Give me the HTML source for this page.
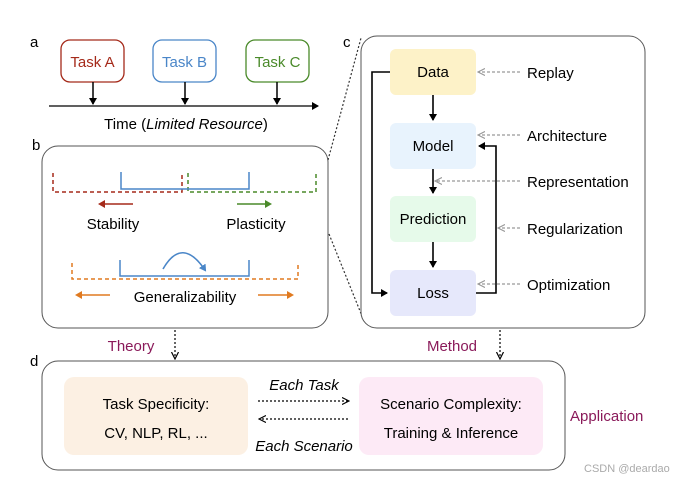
<!DOCTYPE html>
<html><head><meta charset="utf-8"><style>
html,body{margin:0;padding:0;background:#fff;}
svg{display:block;}
text{font-family:"Liberation Sans",Arial,sans-serif;}
</style></head><body>
<svg width="679" height="482" viewBox="0 0 679 482" xmlns="http://www.w3.org/2000/svg">
<defs>
<marker id="ak" markerWidth="8" markerHeight="8" refX="6" refY="4" orient="auto" markerUnits="userSpaceOnUse"><path d="M0,0 L7,4 L0,8 z" fill="#000"/></marker>
<marker id="ag" markerWidth="8" markerHeight="8" refX="6" refY="4" orient="auto" markerUnits="userSpaceOnUse"><path d="M0,0.5 L7,4 L0,7.5" fill="none" stroke="#999" stroke-width="1.2"/></marker>
<marker id="ad" markerWidth="8" markerHeight="8" refX="6" refY="4" orient="auto" markerUnits="userSpaceOnUse"><path d="M0,0.5 L7,4 L0,7.5" fill="none" stroke="#000" stroke-width="1.2"/></marker>
<marker id="ar" markerWidth="8" markerHeight="8" refX="5" refY="4" orient="auto" markerUnits="userSpaceOnUse"><path d="M0,0 L7,4 L0,8 z" fill="#a52a1a"/></marker>
<marker id="agr" markerWidth="8" markerHeight="8" refX="5" refY="4" orient="auto" markerUnits="userSpaceOnUse"><path d="M0,0 L7,4 L0,8 z" fill="#4a8a2a"/></marker>
<marker id="ao" markerWidth="8" markerHeight="8" refX="5" refY="4" orient="auto" markerUnits="userSpaceOnUse"><path d="M0,0 L7,4 L0,8 z" fill="#e07a20"/></marker>
<marker id="ab" markerWidth="8" markerHeight="8" refX="5" refY="4" orient="auto" markerUnits="userSpaceOnUse"><path d="M0,0 L7,4 L0,8 z" fill="#4a86c8"/></marker>
</defs>

<text x="30" y="47" font-size="15">a</text>
<text x="32" y="150" font-size="15">b</text>
<text x="343" y="47" font-size="15">c</text>
<text x="30" y="366" font-size="15">d</text>

<rect x="61" y="40" width="63" height="42" rx="9" fill="#fff" stroke="#a52a1a" stroke-width="1.3"/>
<text x="92.5" y="67" font-size="15" fill="#a52a1a" text-anchor="middle">Task A</text>
<rect x="153" y="40" width="63" height="42" rx="9" fill="#fff" stroke="#4a86c8" stroke-width="1.3"/>
<text x="184.5" y="67" font-size="15" fill="#4a86c8" text-anchor="middle">Task B</text>
<rect x="246" y="40" width="63" height="42" rx="9" fill="#fff" stroke="#4a8a2a" stroke-width="1.3"/>
<text x="277.5" y="67" font-size="15" fill="#4a8a2a" text-anchor="middle">Task C</text>
<line x1="49" y1="106" x2="318" y2="106" stroke="#000" stroke-width="1.3" marker-end="url(#ak)"/>
<line x1="93" y1="82" x2="93" y2="104" stroke="#000" stroke-width="1.5" marker-end="url(#ak)"/>
<line x1="185" y1="82" x2="185" y2="104" stroke="#000" stroke-width="1.5" marker-end="url(#ak)"/>
<line x1="277" y1="82" x2="277" y2="104" stroke="#000" stroke-width="1.5" marker-end="url(#ak)"/>
<text x="186" y="129" font-size="15" text-anchor="middle">Time (<tspan font-style="italic">Limited Resource</tspan>)</text>

<rect x="42" y="146" width="286" height="182" rx="16" fill="#fff" stroke="#555" stroke-width="1"/>
<path d="M53,173 V192 H182 V173" fill="none" stroke="#a52a1a" stroke-width="1.5" stroke-dasharray="4,3"/>
<path d="M188,173 V192 H316 V173" fill="none" stroke="#4a8a2a" stroke-width="1.5" stroke-dasharray="4,3"/>
<path d="M121,172 V189 H249 V172" fill="none" stroke="#4a86c8" stroke-width="1.5"/>
<line x1="133" y1="204" x2="100" y2="204" stroke="#a52a1a" stroke-width="1.6" marker-end="url(#ar)"/>
<line x1="237" y1="204" x2="270" y2="204" stroke="#4a8a2a" stroke-width="1.6" marker-end="url(#agr)"/>
<text x="113" y="229" font-size="15" text-anchor="middle">Stability</text>
<text x="256" y="229" font-size="15" text-anchor="middle">Plasticity</text>
<path d="M72,263 V279 H298 V263" fill="none" stroke="#e07a20" stroke-width="1.5" stroke-dasharray="4,3"/>
<path d="M120,260 V276 H249 V260" fill="none" stroke="#4a86c8" stroke-width="1.5"/>
<path d="M163,269 Q182,236 205,270" fill="none" stroke="#4a86c8" stroke-width="1.6" marker-end="url(#ab)"/>
<line x1="110" y1="295" x2="77" y2="295" stroke="#e07a20" stroke-width="1.6" marker-end="url(#ao)"/>
<line x1="258" y1="295" x2="292" y2="295" stroke="#e07a20" stroke-width="1.6" marker-end="url(#ao)"/>
<text x="185" y="302" font-size="15" text-anchor="middle">Generalizability</text>

<line x1="328" y1="160" x2="361" y2="38" stroke="#333" stroke-width="1.2" stroke-dasharray="2,2"/>
<line x1="329" y1="234" x2="362" y2="316" stroke="#333" stroke-width="1.2" stroke-dasharray="2,2"/>

<rect x="361" y="36" width="284" height="292" rx="16" fill="#fff" stroke="#555" stroke-width="1"/>
<rect x="390" y="49" width="86" height="46" rx="6" fill="#fdf2c8"/>
<text x="433" y="77" font-size="15" text-anchor="middle">Data</text>
<rect x="390" y="123" width="86" height="46" rx="6" fill="#e8f3fd"/>
<text x="433" y="151" font-size="15" text-anchor="middle">Model</text>
<rect x="390" y="196" width="86" height="46" rx="6" fill="#e6faea"/>
<text x="433" y="224" font-size="15" text-anchor="middle">Prediction</text>
<rect x="390" y="270" width="86" height="46" rx="6" fill="#e6e8fb"/>
<text x="433" y="298" font-size="15" text-anchor="middle">Loss</text>
<line x1="433" y1="95" x2="433" y2="120" stroke="#000" stroke-width="1.6" marker-end="url(#ak)"/>
<line x1="433" y1="169" x2="433" y2="193" stroke="#000" stroke-width="1.6" marker-end="url(#ak)"/>
<line x1="433" y1="242" x2="433" y2="267" stroke="#000" stroke-width="1.6" marker-end="url(#ak)"/>
<path d="M390,72 H372 V293 H387" fill="none" stroke="#000" stroke-width="1.6" marker-end="url(#ak)"/>
<path d="M476,293 H496 V146 H479" fill="none" stroke="#000" stroke-width="1.6" marker-end="url(#ak)"/>
<line x1="520" y1="72" x2="479" y2="72" stroke="#999" stroke-width="1.2" stroke-dasharray="3,2" marker-end="url(#ag)"/>
<line x1="520" y1="135" x2="479" y2="135" stroke="#999" stroke-width="1.2" stroke-dasharray="3,2" marker-end="url(#ag)"/>
<line x1="520" y1="181" x2="436" y2="181" stroke="#999" stroke-width="1.2" stroke-dasharray="3,2" marker-end="url(#ag)"/>
<line x1="520" y1="228" x2="499" y2="228" stroke="#999" stroke-width="1.2" stroke-dasharray="3,2" marker-end="url(#ag)"/>
<line x1="520" y1="284" x2="479" y2="284" stroke="#999" stroke-width="1.2" stroke-dasharray="3,2" marker-end="url(#ag)"/>
<text x="527" y="78" font-size="15">Replay</text>
<text x="527" y="141" font-size="15">Architecture</text>
<text x="527" y="187" font-size="15">Representation</text>
<text x="527" y="234" font-size="15">Regularization</text>
<text x="527" y="290" font-size="15">Optimization</text>

<text x="131" y="351" font-size="15" fill="#8a1a5a" text-anchor="middle">Theory</text>
<text x="452" y="351" font-size="15" fill="#8a1a5a" text-anchor="middle">Method</text>
<line x1="175" y1="330" x2="175" y2="358" stroke="#000" stroke-width="1.2" stroke-dasharray="2,2" marker-end="url(#ad)"/>
<line x1="500" y1="330" x2="500" y2="358" stroke="#000" stroke-width="1.2" stroke-dasharray="2,2" marker-end="url(#ad)"/>

<rect x="42" y="361" width="523" height="109" rx="16" fill="#fff" stroke="#555" stroke-width="1"/>
<rect x="64" y="377" width="184" height="78" rx="10" fill="#fcf0e3"/>
<text x="156" y="409" font-size="15" text-anchor="middle">Task Specificity:</text>
<text x="156" y="438" font-size="15" text-anchor="middle">CV, NLP, RL, ...</text>
<rect x="359" y="377" width="184" height="78" rx="10" fill="#fdeaf6"/>
<text x="451" y="409" font-size="15" text-anchor="middle">Scenario Complexity:</text>
<text x="451" y="438" font-size="15" text-anchor="middle">Training &amp; Inference</text>
<text x="304" y="390" font-size="15" font-style="italic" text-anchor="middle">Each Task</text>
<line x1="258" y1="401" x2="348" y2="401" stroke="#000" stroke-width="1.2" stroke-dasharray="2,2" marker-end="url(#ad)"/>
<line x1="348" y1="419" x2="260" y2="419" stroke="#000" stroke-width="1.2" stroke-dasharray="2,2" marker-end="url(#ad)"/>
<text x="304" y="451" font-size="15" font-style="italic" text-anchor="middle">Each Scenario</text>
<text x="570" y="421" font-size="15" fill="#8a1a5a">Application</text>
<text x="584" y="472" font-size="11" fill="#aaa">CSDN @deardao</text>
</svg>
</body></html>
